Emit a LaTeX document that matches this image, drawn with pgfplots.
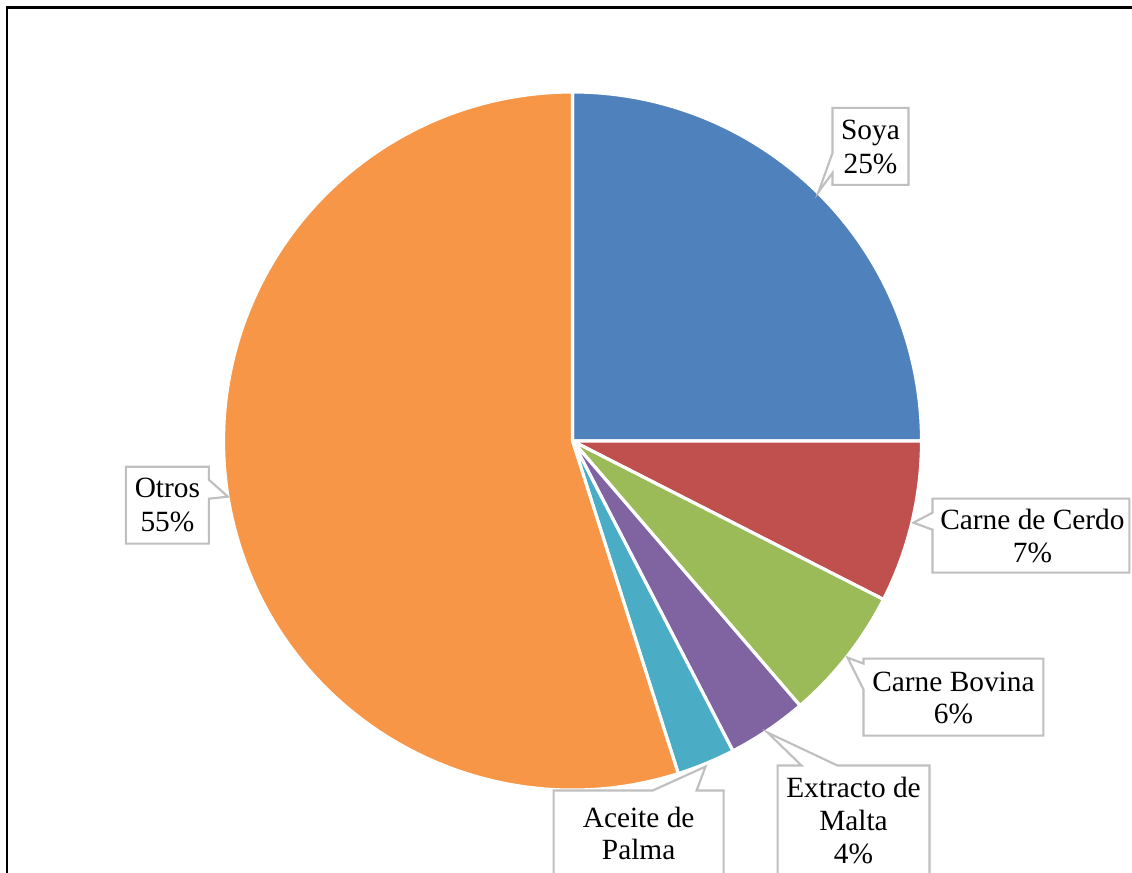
\documentclass[border=0pt]{standalone}
\usepackage{pgfplots}
\pgfplotsset{compat=1.18}
\usepackage{pgfplotstable}
\usepackage{fontspec}
\setmainfont{Liberation Serif}
\definecolor{csoya}{HTML}{4F81BD}
\definecolor{ccerdo}{HTML}{C0504D}
\definecolor{cbovina}{HTML}{9BBB59}
\definecolor{cmalta}{HTML}{8064A2}
\definecolor{cpalma}{HTML}{4BACC6}
\definecolor{cotros}{HTML}{F79646}
\definecolor{boxgray}{HTML}{BFBFBF}

\pgfplotstableread[col sep=comma]{
label,value,colour
Soya,25.0,csoya
Carne de Cerdo,7.5,ccerdo
Carne Bovina,6.2,cbovina
Extracto de Malta,3.7,cmalta
Aceite de Palma,2.7,cpalma
Otros,54.9,cotros
}\piedata

\newcommand\lbl[3]{\node[anchor=base,inner sep=0pt] at (#1,#2) {#3};}

\begin{document}
\begin{tikzpicture}
\useasboundingbox (0,0) rectangle (11.32,8.73);
\clip (0,0) rectangle (11.32,8.73);
\begin{axis}[
  x=1cm, y=1cm,
  xmin=0, xmax=11.32, ymin=-8.73, ymax=0,
  enlargelimits=false,
  hide axis,
  clip=false,
  at={(0,0)}, anchor=south west,
]
\pgfplotsextra{
  \gdef\curang{90}
  \foreach \i in {0,...,5}{
    \pgfplotstablegetelem{\i}{value}\of\piedata \let\sliceval\pgfplotsretval
    \pgfplotstablegetelem{\i}{colour}\of\piedata \let\slicecol\pgfplotsretval
    \pgfmathsetmacro\endang{\curang-3.6*\sliceval}
    \fill[color=\slicecol, draw=white, line width=0.9pt, line join=round]
      (axis cs:5.725,-4.41) -- ++(\curang:3.49cm)
      arc[start angle=\curang, end angle=\endang, radius=3.49cm] -- cycle;
    \xdef\curang{\endang}
  }
}
\end{axis}
\begin{scope}[x=0.01cm, y=-0.01cm, shift={(0,8.73cm)}]
  % frame
  \draw[black, line width=0.85pt] (7,880) -- (7,8) -- (1140,8);
  % callouts
  \begin{scope}[fill=white, draw=boxgray, line width=0.6pt, line join=miter]
    \filldraw (833,108) -- (909,108) -- (909,185) -- (833,185) -- (833,173) -- (819,192) -- (833,153) -- cycle;
    \filldraw (933,499) -- (1130,499) -- (1130,573) -- (933,573) -- (933,530) -- (914,523) -- (933,513) -- cycle;
    \filldraw (864,659) -- (1044,659) -- (1044,736) -- (864,736) -- (864,690) -- (848,658) -- (864,664) -- cycle;
    \filldraw (778,766) -- (802,766) -- (768,733) -- (838,766) -- (930,766) -- (930,900) -- (778,900) -- cycle;
    \filldraw (554,791) -- (653,791) -- (706,767) -- (697,791) -- (724,791) -- (724,900) -- (554,900) -- cycle;
    \filldraw (126,467) -- (209,467) -- (209,480) -- (228,497) -- (209,499) -- (209,544) -- (126,544) -- cycle;
  \end{scope}
  \fontsize{8.35}{9.5}\selectfont
  \lbl{871}{140}{Soya}
  \lbl{871}{174}{25\%}
  \lbl{1033}{530}{Carne de Cerdo}
  \lbl{1033}{563}{7\%}
  \lbl{954}{692}{Carne Bovina}
  \lbl{954}{724}{6\%}
  \lbl{854}{798}{Extracto de}
  \lbl{854}{831}{Malta}
  \lbl{854}{864}{4\%}
  \lbl{639}{828}{Aceite de}
  \lbl{639}{860}{Palma}
  \lbl{167.5}{498}{Otros}
  \lbl{167.5}{532}{55\%}
\end{scope}
\end{tikzpicture}
\end{document}
